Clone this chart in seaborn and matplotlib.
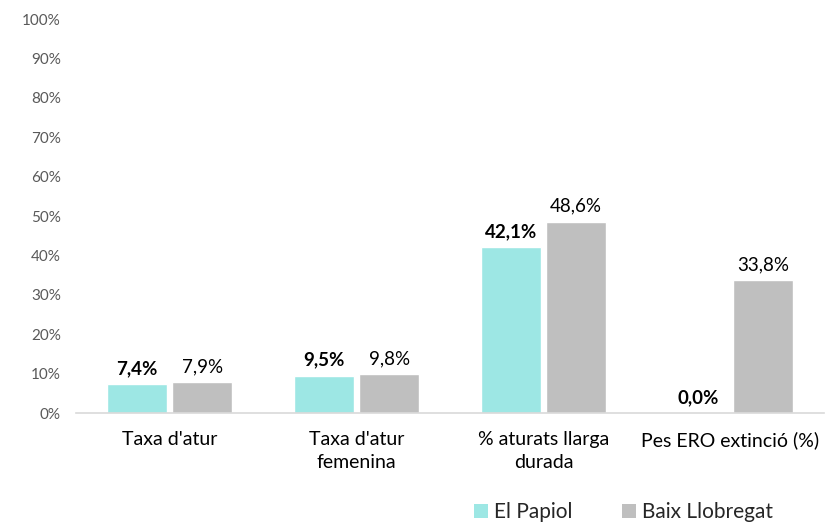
import matplotlib
matplotlib.use("Agg")
import matplotlib.pyplot as plt
import seaborn as sns
import pandas as pd
from matplotlib.patches import Patch

categories = ["Taxa d'atur", "Taxa d'atur\nfemenina", "% aturats llarga\ndurada", "Pes ERO extinció (%)"]
series_names = ["El Papiol", "Baix Llobregat"]
papiol = [7.4, 9.5, 42.1, 0.0]
baix = [7.9, 9.8, 48.6, 33.8]
colors = ["#9DE7E4", "#BFBFBF"]
yticks = [0, 10, 20, 30, 40, 50, 60, 70, 80, 90, 100]

df = pd.DataFrame({
    "cat": categories * 2,
    "serie": [series_names[0]] * 4 + [series_names[1]] * 4,
    "val": papiol + baix,
})

sns.set_theme(style="white")
plt.rcParams["font.family"] = ["Lato", "DejaVu Sans"]

fig = plt.figure(figsize=(8.31, 5.22), dpi=100)
ax = fig.add_axes([0.0915, 0.2088, 0.9001, 0.7548])
sns.barplot(data=df, x="cat", y="val", hue="serie", palette=colors,
            width=0.70, gap=0.08, ax=ax, legend=False, saturation=1)

ax.set_ylim(0, 100)
ax.set_xlim(-0.5, 3.5)
ax.set_yticks(yticks)
ax.set_yticklabels([f"{t}%" for t in yticks], color="#595959", fontsize=11)
ax.tick_params(axis="x", length=0, pad=13, labelsize=14, labelcolor="#000000")
for lab in ax.get_xticklabels():
    lab.set_linespacing(1.45)
ax.tick_params(axis="y", length=0, pad=11)
ax.set_xlabel("")
ax.set_ylabel("")
for s in ["top", "right", "left"]:
    ax.spines[s].set_visible(False)
ax.spines["bottom"].set_color("#D9D9D9")
ax.spines["bottom"].set_linewidth(1.2)

for i, cont in enumerate(ax.containers):
    vals = papiol if i == 0 else baix
    labels = [f"{v:.1f}%".replace(".", ",") for v in vals]
    ax.bar_label(cont, labels=labels, padding=5, fontsize=13.5,
                 fontweight="bold" if i == 0 else "normal", color="#000000")

handles = [Patch(facecolor=c, edgecolor="none") for c in colors]
fig.legend(handles, series_names, loc="lower left", bbox_to_anchor=(0.548, -0.036),
           ncol=2, frameon=False, fontsize=15, handlelength=0.65, handleheight=0.65,
           columnspacing=2.4, handletextpad=0.3)

fig.savefig("out.png", dpi=100)
